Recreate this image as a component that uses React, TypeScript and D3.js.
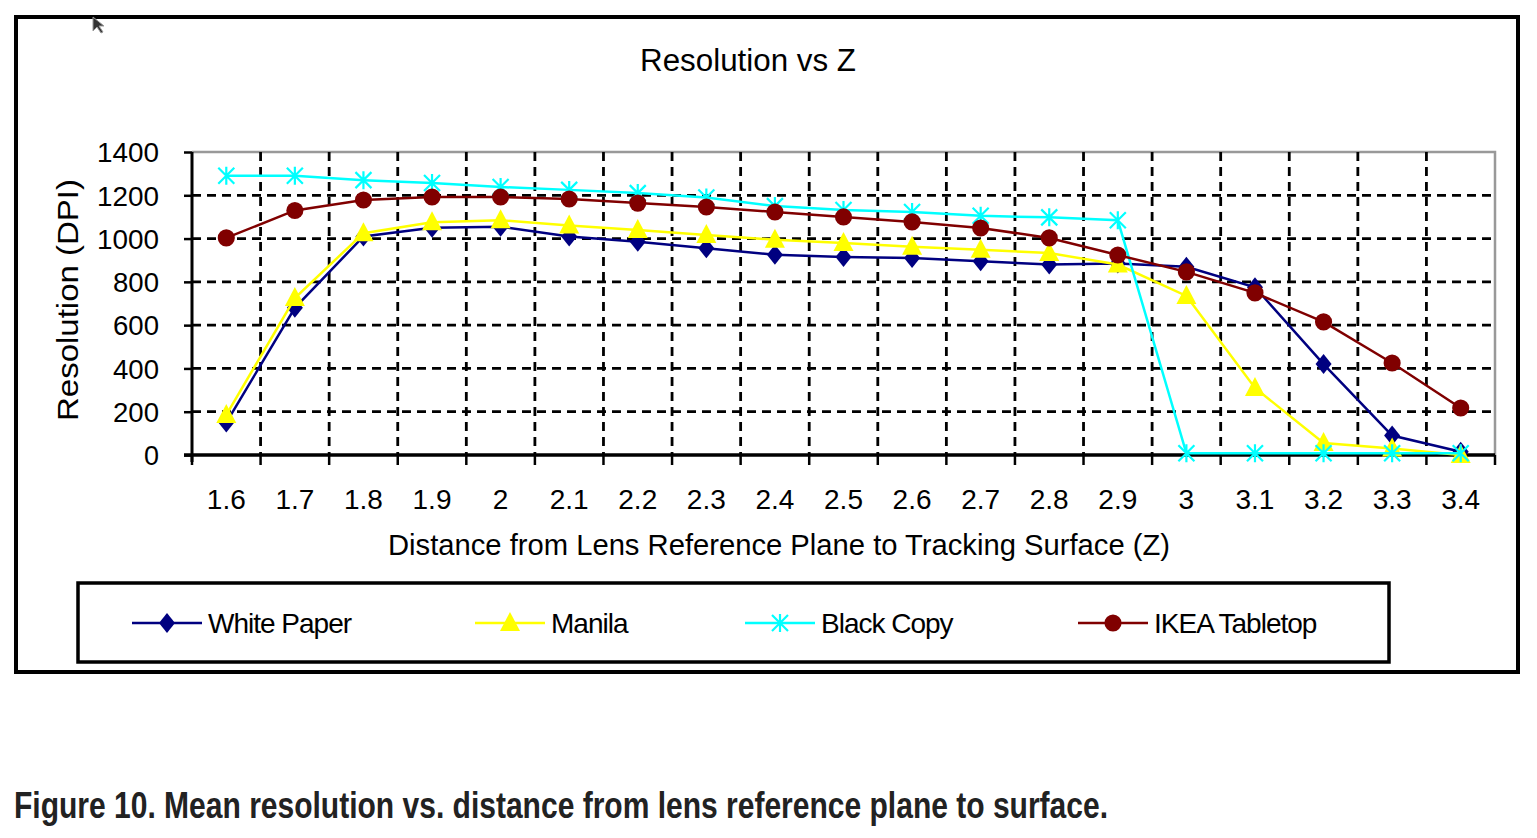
import * as d3 from 'd3';
import { useEffect, useRef } from 'react';

const categories = ['1.6', '1.7', '1.8', '1.9', '2', '2.1', '2.2', '2.3', '2.4', '2.5', '2.6', '2.7', '2.8', '2.9', '3', '3.1', '3.2', '3.3', '3.4'];
const whitePaper = [150, 680, 1010, 1050, 1055, 1010, 985, 955, 925, 915, 910, 895, 880, 885, 870, 775, 420, 90, 15];
const manila = [185, 725, 1025, 1075, 1085, 1060, 1040, 1017, 995, 980, 962, 948, 933, 880, 735, 310, 55, 30, 0];
const blackCopy = [1290, 1290, 1270, 1257, 1238, 1225, 1210, 1190, 1150, 1132, 1123, 1105, 1098, 1085, 8, 8, 8, 8, 8];
const ikea = [1003, 1130, 1178, 1192, 1192, 1183, 1164, 1146, 1123, 1100, 1077, 1049, 1003, 924, 846, 749, 615, 425, 217];
const yTicks = [0, 200, 400, 600, 800, 1000, 1200, 1400];

const series = [
  { name: 'White Paper', values: whitePaper, color: '#000080', marker: 'diamond' },
  { name: 'Manila', values: manila, color: '#ffff00', marker: 'triangle' },
  { name: 'Black Copy', values: blackCopy, color: '#00ffff', marker: 'star' },
  { name: 'IKEA Tabletop', values: ikea, color: '#800000', marker: 'circle' },
];

const font = '"Liberation Sans Narrow", "Liberation Sans", Arial, sans-serif';

export default function App() {
  const svgRef = useRef(null);

  useEffect(() => {
    if (!svgRef.current) return;
    const svg = d3.select(svgRef.current);
    svg.selectAll('*').remove();

    const x = d3.scaleBand().domain(categories).range([192, 1495]).padding(0);
    const y = d3.scaleLinear().domain([0, 1400]).range([455, 152]);
    const cx = (c: string) => (x(c) as number) + x.bandwidth() / 2;

    // outer frame
    svg.append('rect').attr('x', 16).attr('y', 17).attr('width', 1502).attr('height', 655)
      .attr('fill', 'white').attr('stroke', 'black').attr('stroke-width', 4);

    // cursor artifact
    svg.append('path').attr('d', 'M93,17 L93,31 L97,27 L101,33 L103,32 L99,26 L104,26 Z')
      .attr('fill', '#333').attr('stroke', '#999').attr('stroke-width', 1);

    // title
    svg.append('text').attr('x', 748).attr('y', 71).attr('text-anchor', 'middle')
      .attr('font-family', font).attr('font-size', 31)
      .attr('textLength', 216).attr('lengthAdjust', 'spacingAndGlyphs')
      .text('Resolution vs Z');

    // plot border (top / right gray)
    svg.append('path').attr('d', `M192,${y(1400)} H1495 V455`)
      .attr('fill', 'none').attr('stroke', '#999').attr('stroke-width', 2.5);

    // grid
    const grid = svg.append('g').attr('stroke', 'black').attr('stroke-width', 2.8).attr('stroke-dasharray', '9,6');
    yTicks.filter((t) => t > 0 && t < 1400).forEach((t) => {
      grid.append('line').attr('x1', 192).attr('x2', 1495).attr('y1', y(t)).attr('y2', y(t));
    });
    categories.slice(1).forEach((c) => {
      grid.append('line').attr('x1', x(c)!).attr('x2', x(c)!).attr('y1', y(1400)).attr('y2', 455);
    });

    // axes
    const yAxis = svg.append('g').attr('transform', 'translate(192,0)')
      .call(d3.axisLeft(y).tickValues(yTicks).tickSize(8).tickPadding(25).tickFormat(d3.format('d')));
    yAxis.select('.domain').attr('stroke-width', 3).attr('d', `M0,${y(1400)}V462`);
    yAxis.selectAll('.tick line').attr('stroke-width', 2.5);
    yAxis.selectAll('text').attr('font-family', font).attr('font-size', 28).attr('fill', 'black')
      .attr('textLength', 62).attr('lengthAdjust', 'spacingAndGlyphs')
      .attr('dy', '0.35em');
    yAxis.selectAll('.tick').filter((d: any) => d < 1000).selectAll('text').attr('textLength', 46);
    yAxis.selectAll('.tick').filter((d: any) => d === 0).selectAll('text').attr('textLength', 15);

    const xTickVals = [...categories.map((c) => x(c)!), 1495];
    const xAxisG = svg.append('g');
    xAxisG.append('line').attr('x1', 184).attr('x2', 1495).attr('y1', 455).attr('y2', 455)
      .attr('stroke', 'black').attr('stroke-width', 3.5);
    xTickVals.forEach((v) => {
      xAxisG.append('line').attr('x1', v).attr('x2', v).attr('y1', 455).attr('y2', 465)
        .attr('stroke', 'black').attr('stroke-width', 2.5);
    });
    categories.forEach((c) => {
      xAxisG.append('text').attr('x', cx(c)).attr('y', 509).attr('text-anchor', 'middle')
        .attr('font-family', font).attr('font-size', 28).text(c);
    });

    // axis titles
    svg.append('text').attr('x', 779).attr('y', 555).attr('text-anchor', 'middle')
      .attr('font-family', font).attr('font-size', 29)
      .attr('textLength', 782).attr('lengthAdjust', 'spacingAndGlyphs')
      .text('Distance from Lens Reference Plane to Tracking Surface (Z)');
    svg.append('text').attr('transform', 'translate(78,300) rotate(-90)').attr('text-anchor', 'middle')
      .attr('font-family', font).attr('font-size', 30)
      .attr('textLength', 242).attr('lengthAdjust', 'spacingAndGlyphs')
      .text('Resolution (DPI)');

    const drawMarker = (g: any, type: string, px: number, py: number, color: string) => {
      if (type === 'diamond') {
        g.append('path').attr('d', `M${px},${py - 10} L${px + 8},${py} L${px},${py + 10} L${px - 8},${py} Z`).attr('fill', color);
      } else if (type === 'triangle') {
        g.append('path').attr('d', `M${px},${py - 11} L${px + 10},${py + 8} L${px - 10},${py + 8} Z`).attr('fill', color);
      } else if (type === 'circle') {
        g.append('path').attr('d', d3.symbol(d3.symbolCircle, 230)()!).attr('transform', `translate(${px},${py})`).attr('fill', color);
      } else {
        g.append('path').attr('d', `M${px - 8},${py - 8} L${px + 8},${py + 8} M${px - 8},${py + 8} L${px + 8},${py - 8} M${px},${py - 9} L${px},${py + 9}`)
          .attr('stroke', color).attr('stroke-width', 2.2).attr('fill', 'none');
      }
    };

    // series
    series.forEach((s) => {
      const g = svg.append('g');
      const line = d3.line<number>().x((_, i) => cx(categories[i])).y((d) => y(d));
      g.append('path').attr('d', line(s.values)!).attr('fill', 'none')
        .attr('stroke', s.color).attr('stroke-width', 2.5);
      s.values.forEach((v, i) => drawMarker(g, s.marker, cx(categories[i]), y(v), s.color));
    });

    // legend
    svg.append('rect').attr('x', 78).attr('y', 583).attr('width', 1311).attr('height', 79)
      .attr('fill', 'white').attr('stroke', 'black').attr('stroke-width', 3.5);
    const legendX = [132, 475, 745, 1078];
    series.forEach((s, i) => {
      const lx = legendX[i];
      const g = svg.append('g');
      g.append('line').attr('x1', lx).attr('x2', lx + 70).attr('y1', 623).attr('y2', 623)
        .attr('stroke', s.color).attr('stroke-width', 2.5);
      drawMarker(g, s.marker, lx + 35, 623, s.color);
      g.append('text').attr('x', lx + 76).attr('y', 633).attr('font-family', font)
        .attr('font-size', 28).attr('letter-spacing', -1).text(s.name);
    });

    // caption
    svg.append('text').attr('x', 14).attr('y', 818).attr('font-family', font)
      .attr('font-size', 36).attr('font-weight', 'bold').attr('fill', '#222')
      .attr('textLength', 1094).attr('lengthAdjust', 'spacingAndGlyphs')
      .text('Figure 10. Mean resolution vs. distance from lens reference plane to surface.');
  }, []);

  return (
    <svg ref={svgRef} width={1537} height={838}
      style={{ position: 'absolute', left: 0, top: 0, background: 'white' }} />
  );
}
